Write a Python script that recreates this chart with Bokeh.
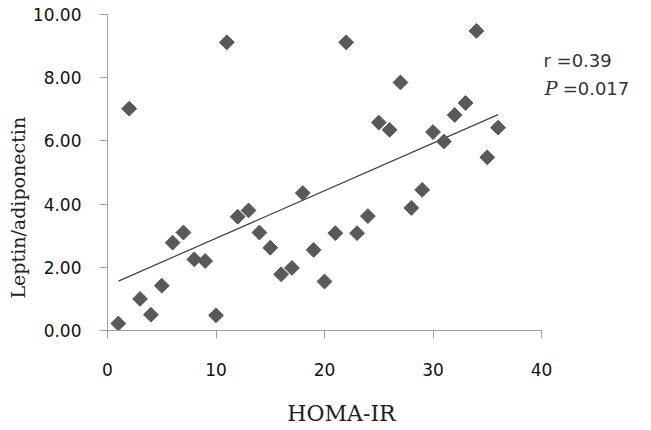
import numpy as np
from bokeh.plotting import figure
from bokeh.models import Range1d, FixedTicker, NumeralTickFormatter, Title, ColumnDataSource
from bokeh.core.properties import value
from bokeh.embed import file_html
from bokeh.resources import INLINE

# Data
homa_ir = [1, 2, 3, 4, 5, 6, 7, 8, 9, 10, 11, 12, 13, 14, 15, 16, 17, 18,
           19, 20, 21, 22, 23, 24, 25, 26, 27, 28, 29, 30, 31, 32, 33, 34, 35, 36]
leptin_adiponectin = [0.22, 7.02, 1.00, 0.50, 1.42, 2.78, 3.10, 2.25, 2.20, 0.48,
                      9.12, 3.60, 3.80, 3.10, 2.62, 1.78, 1.98, 4.35, 2.55, 1.55,
                      3.08, 9.12, 3.08, 3.62, 6.58, 6.35, 7.85, 3.88, 4.45, 6.28,
                      5.98, 6.82, 7.20, 9.48, 5.48, 6.42]
x_ticks = [0, 10, 20, 30, 40]
y_ticks = [0, 2, 4, 6, 8, 10]
r_text = "r =0.39"
p_letter = "P"
p_text = "=0.017"

x = np.array(homa_ir, dtype=float)
y = np.array(leptin_adiponectin, dtype=float)
slope, intercept = np.polyfit(x, y, 1)
trend_x = [x.min(), x.max()]
trend_y = [intercept + slope * v for v in trend_x]

W, H = 651, 430
left, right, top, bottom = 107, 76, 14, 100
px_per_x = 434 / 40.0
x_end = (W - left - right) / px_per_x

p = figure(width=W, height=H, output_backend="svg", toolbar_location=None,
           x_range=Range1d(0, x_end), y_range=Range1d(0, 10),
           min_border_left=left, min_border_right=right,
           min_border_top=top, min_border_bottom=bottom)
p.outline_line_color = None
p.xgrid.visible = False
p.ygrid.visible = False
p.background_fill_color = "white"
p.border_fill_color = "white"

axis_color = "#a0a0a0"
for ax in (p.xaxis[0], p.yaxis[0]):
    ax.axis_line_color = axis_color
    ax.major_tick_line_color = axis_color
    ax.minor_tick_line_color = None
    ax.major_tick_in = 0
    ax.major_tick_out = 8
    ax.major_label_text_font = "DejaVu Sans"
    ax.major_label_text_font_size = "17px"
    ax.major_label_text_color = "#111111"

p.xaxis[0].ticker = FixedTicker(ticks=x_ticks)
p.xaxis[0].bounds = (0, 40)
p.yaxis[0].ticker = FixedTicker(ticks=y_ticks)
p.yaxis[0].formatter = NumeralTickFormatter(format="0.00")
p.xaxis[0].major_label_standoff = 24
p.yaxis[0].major_label_standoff = 18

# x axis title
p.xaxis[0].axis_label = "HOMA-IR"
p.xaxis[0].axis_label_text_font = "DejaVu Serif"
p.xaxis[0].axis_label_text_font_size = "22px"
p.xaxis[0].axis_label_text_font_style = "normal"
p.xaxis[0].axis_label_text_color = "#222222"
p.xaxis[0].axis_label_standoff = 22

# y axis title
p.add_layout(Title(text="Leptin/adiponectin", align="left", offset=32,
                   text_font="DejaVu Serif", text_font_size="19px",
                   text_font_style="normal", text_color="#222222", standoff=1), "left")

src = ColumnDataSource(dict(x=homa_ir, y=leptin_adiponectin))
p.line(trend_x, trend_y, line_color="#404040", line_width=1.2)
p.scatter("x", "y", source=src, marker="square", size=10.5, angle=np.pi / 4,
          fill_color="#595959", line_color="#595959")

# stats annotation (drawn on the overlay level, beyond the x-axis end)
p.text(x=[40.18], y=[8.54], text=[r_text], text_align="left", text_baseline="middle",
       text_font=value("DejaVu Sans"), text_font_size="18px", text_color="#333333",
       level="overlay")
p.text(x=[40.3], y=[7.66], text=[p_letter], text_align="left", text_baseline="middle",
       text_font=value("DejaVu Serif"), text_font_style="italic",
       text_font_size="19px", text_color="#333333", level="overlay")
p.text(x=[41.95], y=[7.66], text=[p_text], text_align="left", text_baseline="middle",
       text_font=value("DejaVu Sans"), text_font_size="18px", text_color="#333333",
       level="overlay")

open("out.html", "w").write(file_html(p, INLINE))
